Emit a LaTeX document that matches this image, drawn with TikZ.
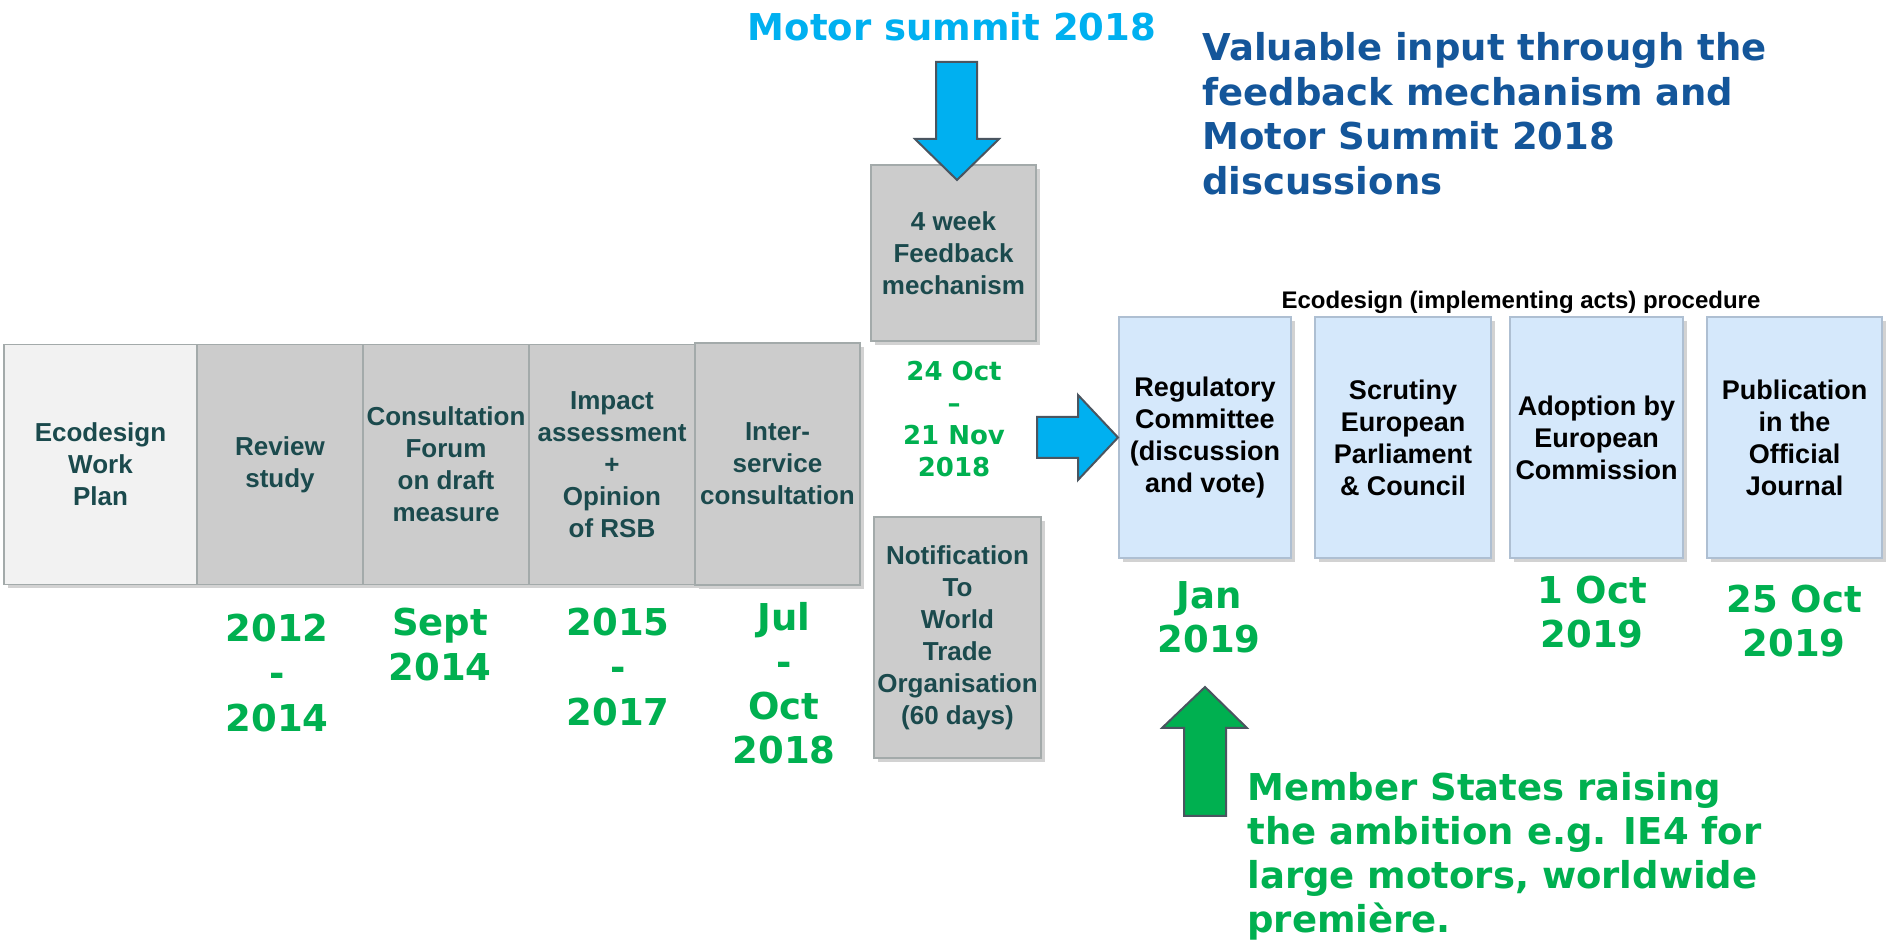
\documentclass[tikz,border=0pt]{standalone}
\usepackage{fontspec}
\setmainfont{Liberation Sans}
\newfontfamily\verdana{DejaVu Sans}
\usetikzlibrary{shadows}
\definecolor{stagegray}{HTML}{CCCCCC}
\definecolor{plangray}{HTML}{F2F2F2}
\definecolor{edgegray}{HTML}{A3AAAA}
\definecolor{stagetext}{HTML}{1B4A4D}
\definecolor{eublue}{HTML}{D5E8FB}
\definecolor{edgeblue}{HTML}{AEBFD2}
\definecolor{summitcyan}{HTML}{00B0F0}
\definecolor{inputblue}{HTML}{14569A}
\definecolor{datgreen}{HTML}{00B050}
\definecolor{arrowedge}{HTML}{4A5560}
\begin{document}
\begin{tikzpicture}[x=0.5pt,y=-0.5pt,
  stage/.style={draw=edgegray,fill=stagegray,text=stagetext,align=center,inner sep=0pt,line width=0.6pt,
    font=\bfseries\fontsize{13}{16}\selectfont,
    drop shadow={shadow xshift=2pt,shadow yshift=-2pt,opacity=0.35}},
  eubox/.style={stage,draw=edgeblue,fill=eublue,text=black,minimum height=120.5pt,
    font=\bfseries\fontsize{13.5}{16}\selectfont},
  datum/.style={text=datgreen,align=center,inner sep=0pt,font=\verdana\bfseries\fontsize{18.5}{22.5}\selectfont},
  note/.style={align=left,inner sep=0pt,anchor=north west,font=\verdana\bfseries\fontsize{18.5}{22.25}\selectfont},
  blockarrow/.style={draw=arrowedge,line width=1pt,line join=miter}]
  \useasboundingbox (0,0) rectangle (1886,945);
  \fill[white] (0,0) rectangle (1886,945);
  \node[stage,fill=plangray,minimum width=96.5pt,minimum height=120pt] (plan) at (100.5,464.5) {Ecodesign\\Work\\Plan};
  \node[stage,minimum width=83pt,minimum height=120pt] (review) at (280,464.5) {Review\\study};
  \node[stage,minimum width=83pt,minimum height=120pt] (forum) at (446,464.5) {Consultation\\Forum\\on draft\\measure};
  \node[stage,minimum width=83pt,minimum height=120pt] (impact) at (612,464.5) {Impact\\assessment\\+\\Opinion\\of RSB};
  \node[stage,minimum width=82.5pt,minimum height=121pt] (isc) at (777.5,464) {Inter-\\service\\consultation};
  \node[stage,minimum width=82.5pt,minimum height=88pt] (feedback) at (953.5,253) {4 week\\Feedback\\mechanism};
  \node[stage,minimum width=83.5pt,minimum height=120.5pt] (wto) at (957.5,637.5) {Notification\\To\\World\\Trade\\Organisation\\(60 days)};
  \node[eubox,minimum width=86pt] (regcom) at (1205,437.5) {Regulatory\\Committee\\(discussion\\and vote)};
  \node[eubox,minimum width=88pt] (scrutiny) at (1403,437.5) {Scrutiny\\European\\Parliament\\\& Council};
  \node[eubox,minimum width=86.5pt] (adoption) at (1596.5,437.5) {Adoption by\\European\\Commission};
  \node[eubox,minimum width=87.5pt] (journal) at (1794.5,437.5) {Publication\\in the\\Official\\Journal};
  \node[font=\bfseries\fontsize{12}{14}\selectfont,inner sep=0pt] (procedure) at (1521,302) {Ecodesign (implementing acts) procedure};
  \node[datum] (d2012) at (277,673) {2012\\-\\2014};
  \node[datum] (d2014) at (440,645) {Sept\\2014};
  \node[datum] (d2015) at (618,667) {2015\\-\\2017};
  \node[datum,font=\verdana\bfseries\fontsize{18.5}{22.2}\selectfont] (d2018) at (784,683.5) {Jul\\-\\Oct\\2018};
  \node[datum,font=\verdana\bfseries\fontsize{13}{16}\selectfont] (dfeed) at (954,419) {24 Oct\\–\\21 Nov\\2018};
  \node[datum,font=\verdana\bfseries\fontsize{18.5}{22}\selectfont] (djan) at (1209,617.5) {Jan\\2019};
  \node[datum,font=\verdana\bfseries\fontsize{18.5}{22}\selectfont] (doct) at (1592,612.5) {1 Oct\\2019};
  \node[datum,font=\verdana\bfseries\fontsize{18.5}{22}\selectfont] (dpub) at (1794,621) {25 Oct\\2019};
  \node[text=summitcyan,inner sep=0pt,font=\verdana\bfseries\fontsize{18.5}{22}\selectfont] (summit) at (952,27) {Motor summit 2018};
  \node[note,text=inputblue] (input) at (1202,32) {Valuable input through the\\feedback mechanism and\\Motor Summit 2018\\discussions};
  \node[note,text=datgreen,font=\verdana\bfseries\fontsize{18.5}{22}\selectfont] (ambition) at (1247,772) {Member States raising\\the ambition e.g. IE4 for\\large motors, worldwide\\première.};
  \draw[blockarrow,fill=summitcyan] (936,62) -- (977,62) -- (977,139) -- (999,139) -- (957,180) -- (915,139) -- (936,139) -- cycle;
  \draw[blockarrow,fill=summitcyan] (1037,417) -- (1078,417) -- (1078,395) -- (1118,437.5) -- (1078,480) -- (1078,458) -- (1037,458) -- cycle;
  \draw[blockarrow,fill=datgreen] (1184,816) -- (1226,816) -- (1226,728) -- (1247,728) -- (1205,687) -- (1162,728) -- (1184,728) -- cycle;
\end{tikzpicture}
\end{document}
